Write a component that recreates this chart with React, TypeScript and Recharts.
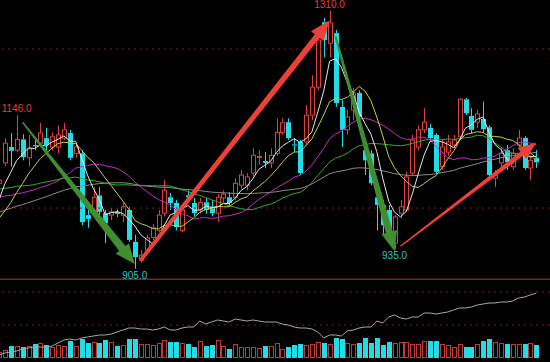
import { Bar, ComposedChart, Line, ReferenceDot, ReferenceLine, XAxis, YAxis } from "recharts";

// daily candles, left to right
const opens = [
  1039, 1071, 1096, 1091, 1108, 1079, 1099, 1102, 1110, 1096, 1096, 1110, 1118, 1086, 1086, 989,
  992, 1020, 992, 989, 994, 989, 997, 947, 918, 934, 954, 965, 992, 1017, 1008, 965,
  1020, 1008, 997, 1009, 1002, 992, 1016, 1017, 1017, 1036, 1036, 1055, 1080, 1074, 1071, 1086,
  1119, 1135, 1100, 1104, 1104, 1146, 1190, 1292, 1259, 1275, 1159, 1123, 1154, 1181, 1091, 1086,
  1017, 1005, 997, 945, 992, 997, 1055, 1096, 1123, 1126, 1115, 1065, 1088, 1099, 1112, 1171,
  1145, 1135, 1140, 1127, 1047, 1071, 1091, 1065, 1099, 1110, 1063, 1079,
];
const highs = [
  1050, 1110, 1118, 1146, 1116, 1115, 1107, 1134, 1126, 1119, 1130, 1134, 1123, 1102, 1091, 997,
  1033, 1033, 997, 1000, 998, 1009, 1002, 958, 934, 958, 975, 997, 1044, 1024, 1013, 1005,
  1028, 1016, 1016, 1016, 1013, 1022, 1028, 1025, 1047, 1060, 1055, 1094, 1091, 1088, 1094, 1141,
  1141, 1141, 1110, 1107, 1162, 1209, 1272, 1299, 1310, 1280, 1170, 1154, 1189, 1185, 1107, 1091,
  1028, 1013, 1005, 989, 1013, 1057, 1115, 1130, 1157, 1132, 1118, 1107, 1115, 1115, 1173, 1173,
  1157, 1154, 1167, 1130, 1060, 1094, 1099, 1094, 1123, 1113, 1083, 1091,
];
const lows = [
  1035, 1066, 1065, 1088, 1075, 1065, 1091, 1097, 1091, 1091, 1086, 1107, 1075, 1079, 973, 969,
  986, 989, 945, 981, 986, 978, 947, 905, 914, 931, 950, 962, 987, 997, 965, 962,
  1013, 987, 991, 991, 987, 978, 1009, 1003, 1013, 1031, 1028, 1050, 1068, 1063, 1063, 1082,
  1115, 1107, 1088, 1052, 1099, 1138, 1185, 1237, 1237, 1159, 1096, 1115, 1138, 1130, 1052, 1036,
  965, 958, 958, 935, 984, 994, 1052, 1091, 1118, 1107, 1053, 1060, 1082, 1094, 1107, 1146,
  1118, 1126, 1119, 1047, 1033, 1057, 1060, 1060, 1091, 1060, 1044, 1063,
];
const closes = [
  1044, 1102, 1090, 1108, 1080, 1093, 1097, 1118, 1099, 1112, 1115, 1123, 1079, 1096, 978, 983,
  1017, 994, 976, 994, 991, 1002, 950, 923, 926, 953, 969, 989, 1028, 1008, 970, 997,
  1017, 992, 1009, 997, 992, 1017, 1022, 1008, 1039, 1052, 1049, 1083, 1081, 1071, 1083, 1119,
  1134, 1110, 1099, 1055, 1146, 1190, 1264, 1264, 1291, 1165, 1123, 1143, 1181, 1143, 1075, 1039,
  1005, 973, 965, 986, 1002, 1049, 1107, 1123, 1135, 1110, 1057, 1096, 1104, 1107, 1171, 1149,
  1123, 1148, 1124, 1052, 1052, 1086, 1072, 1086, 1110, 1063, 1075, 1072,
];
// volume, thousand lots
const volumes = [
  6, 8, 12, 12, 11, 12, 14, 15, 13, 11, 13, 12, 17, 12, 19, 15,
  16, 15, 18, 16, 12, 13, 19, 19, 14, 14, 13, 15, 18, 16, 16, 15,
  14, 11, 17, 12, 13, 18, 12, 9, 14, 11, 11, 11, 10, 12, 12, 15,
  9, 11, 13, 14, 13, 14, 16, 15, 14, 20, 19, 15, 14, 15, 20, 15,
  20, 13, 16, 15, 16, 16, 14, 14, 17, 17, 17, 14, 13, 11, 14, 11,
  11, 14, 17, 19, 16, 15, 14, 14, 14, 14, 15, 13,
];
// grey indicator line in the volume pane
const obv = [
  3, 5, 6, 7, 9, 10, 11, 11, 11, 12, 15, 18, 19, 18, 20, 21,
  22, 23, 23, 24, 26, 28, 30, 30, 29, 29, 28, 29, 31, 28, 28, 30,
  31, 31, 37, 34, 36, 38, 37, 36, 39, 38, 37, 38, 37, 36, 36, 36,
  34, 33, 31, 30, 30, 29, 26, 20, 23, 23, 22, 27, 28, 30, 31, 31,
  37, 35, 41, 43, 40, 39, 41, 41, 45, 45, 44, 45, 46, 48, 50, 50,
  51, 53, 54, 55, 55, 56, 56, 57, 60, 61, 63, 65,
];
// closes before the visible window (only feed the moving averages)
const prevCloses = [
  905, 912, 920, 915, 908, 918, 925, 912, 906, 915, 922, 930, 918, 910, 916, 924, 920,
  940, 962, 985, 1000, 1012, 1005, 1020, 1030, 1018, 1035, 1042, 1038, 1050,
  1060, 1055, 1048, 1062, 1070, 1058, 1050, 1046, 1055, 1052,
  1060, 1066, 1058, 1050, 1045, 1052, 1048, 1040, 1042, 1035,
  985, 960, 948, 940, 942,
  975, 1000, 1015, 1030,
];

const extremes = [
  { i: 3, price: 1146, side: "high" },
  { i: 56, price: 1310, side: "high" },
  { i: 23, price: 905, side: "low" },
  { i: 67, price: 935, side: "low" },
];

const RED = "#e0403c";
const CYAN = "#22dde6";
const GRID = "#7a1c1c";
const GREEN_ARROW = "#3f8f30";
const RED_ARROW = "#ec4038";

function movingAverage(n: number) {
  const all = prevCloses.concat(closes);
  const off = prevCloses.length;
  return closes.map((_, i) => {
    const end = off + i;
    const start = Math.max(0, end - n + 1);
    let s = 0;
    for (let k = start; k <= end; k++) s += all[k];
    return +(s / (end - start + 1)).toFixed(1);
  });
}

const ma5 = movingAverage(5);
const ma10 = movingAverage(10);
const ma20 = movingAverage(20);
const ma30 = movingAverage(30);
const ma60 = movingAverage(60);

// two empty slots on the right, like the terminal leaves
const rows = Array.from({ length: closes.length + 2 }, (_, i) =>
  i < closes.length
    ? {
        i,
        open: opens[i],
        high: highs[i],
        low: lows[i],
        close: closes[i],
        range: [lows[i], highs[i]],
        vol: volumes[i] * 1000,
        obv: obv[i],
        ma5: ma5[i],
        ma10: ma10[i],
        ma20: ma20[i],
        ma30: ma30[i],
        ma60: ma60[i],
      }
    : { i }
);

function Candle(props: any) {
  const { x, y, width, height, payload } = props;
  if (!payload || payload.open == null) return null;
  const { open, close, high, low } = payload;
  const top0 = Math.min(y, y + height);
  const h = Math.abs(height);
  const px = (v: number) => (high === low ? top0 : top0 + ((high - v) / (high - low)) * h);
  const up = close > open;
  const color = up ? RED : CYAN;
  const cx = Math.round(x + width / 2) + 0.5;
  const bTop = px(Math.max(open, close));
  const bBot = Math.max(px(Math.min(open, close)), bTop + 1);
  const left = cx - 2;
  return (
    <g>
      <line x1={cx} x2={cx} y1={top0} y2={bTop} stroke={color} strokeWidth={1} />
      <line x1={cx} x2={cx} y1={bBot} y2={top0 + h} stroke={color} strokeWidth={1} />
      {up ? (
        <rect x={left} y={bTop} width={4} height={bBot - bTop} fill="#000" stroke={color} strokeWidth={1} />
      ) : (
        <rect x={left - 0.5} y={bTop} width={5} height={bBot - bTop} fill={color} />
      )}
    </g>
  );
}

function VolumeBar(props: any) {
  const { x, y, width, height, payload } = props;
  if (!payload || payload.open == null) return null;
  const up = payload.close > payload.open;
  const left = Math.round(x + width / 2) - 2;
  if (up)
    return <rect x={left + 0.5} y={y + 0.5} width={4} height={height - 1} fill="none" stroke="#c23a36" strokeWidth={1} />;
  return <rect x={left} y={y} width={5} height={height} fill={CYAN} />;
}

function arrow(color: string, w0: number, w1: number, headL: number, headW: number) {
  return (p: any) => {
    const { x1, y1, x2, y2 } = p;
    const dx = x2 - x1;
    const dy = y2 - y1;
    const len = Math.hypot(dx, dy) || 1;
    const ux = dx / len;
    const uy = dy / len;
    const nx = -uy;
    const ny = ux;
    const bx = x2 - ux * headL;
    const by = y2 - uy * headL;
    const pts = [
      [x1 + (nx * w0) / 2, y1 + (ny * w0) / 2],
      [bx + (nx * w1) / 2, by + (ny * w1) / 2],
      [bx + (nx * headW) / 2, by + (ny * headW) / 2],
      [x2, y2],
      [bx - (nx * headW) / 2, by - (ny * headW) / 2],
      [bx - (nx * w1) / 2, by - (ny * w1) / 2],
      [x1 - (nx * w0) / 2, y1 - (ny * w0) / 2],
    ];
    return <polygon points={pts.map((q) => q.join(",")).join(" ")} fill={color} />;
  };
}

function extremeLabel(price: number, side: string) {
  return (p: any) => (
    <text
      x={p.cx}
      y={side === "high" ? p.cy - 3 : p.cy + 10}
      textAnchor="middle"
      fontFamily="Liberation Sans"
      fontSize={10}
      fill={side === "high" ? RED : "#2cc4cc"}
    >
      {price.toFixed(1)}
    </text>
  );
}

const maLines = [
  { key: "ma60", color: "#8c8c8c" },
  { key: "ma30", color: "#2fae2f" },
  { key: "ma20", color: "#c22fc2" },
  { key: "ma10", color: "#cccc3c" },
  { key: "ma5", color: "#e6e6e6" },
];

export default function App() {
  return (
    <div style={{ position: "absolute", left: 0, top: 0, width: 550, height: 362, background: "#000", overflow: "hidden" }}>
      <div style={{ position: "absolute", left: -4, top: 0 }}>
        <ComposedChart width={555} height={280} data={rows} margin={{ top: 0, right: 0, bottom: 0, left: 0 }}>
          <XAxis dataKey="i" hide />
          <YAxis domain={[887, 1327]} allowDataOverflow hide />
          <ReferenceLine y={1250} stroke={GRID} strokeDasharray="2 4" />
          <ReferenceLine y={1000} stroke={GRID} strokeDasharray="2 4" />
          <ReferenceLine y={888} stroke="#8a1e1e" strokeWidth={1.5} />
          <Bar dataKey="range" shape={<Candle />} isAnimationActive={false} />
          {maLines.map((m) => (
            <Line
              key={m.key}
              dataKey={m.key}
              stroke={m.color}
              strokeWidth={1}
              dot={false}
              activeDot={false}
              isAnimationActive={false}
            />
          ))}
          <ReferenceLine segment={[{ x: 4, y: 1135 }, { x: 23, y: 912 }]} shape={arrow(GREEN_ARROW, 1.5, 8, 20, 17)} />
          <ReferenceLine segment={[{ x: 24, y: 918 }, { x: 56, y: 1295 }]} shape={arrow(RED_ARROW, 4, 6, 20, 16)} />
          <ReferenceLine segment={[{ x: 57, y: 1270 }, { x: 67, y: 932 }]} shape={arrow(GREEN_ARROW, 2, 7, 20, 16)} />
          <ReferenceLine segment={[{ x: 68, y: 940 }, { x: 91, y: 1103 }]} shape={arrow(RED_ARROW, 1.5, 5, 18, 14)} />
          {extremes.map((e) => (
            <ReferenceDot key={e.i} x={e.i} y={e.price} r={1} ifOverflow="visible" shape={extremeLabel(e.price, e.side)} />
          ))}
        </ComposedChart>
      </div>
      <div style={{ position: "absolute", left: -4, top: 280 }}>
        <ComposedChart width={555} height={82} data={rows} margin={{ top: 0, right: 0, bottom: 4, left: 0 }}>
          <XAxis dataKey="i" hide />
          <YAxis yAxisId="vol" domain={[0, 78000]} hide />
          <YAxis yAxisId="obv" domain={[0, 78]} hide />
          <ReferenceLine yAxisId="vol" y={66000} stroke={GRID} strokeDasharray="2 4" />
          <ReferenceLine yAxisId="vol" y={33000} stroke={GRID} strokeDasharray="2 4" />
          <Bar yAxisId="vol" dataKey="vol" shape={<VolumeBar />} isAnimationActive={false} />
          <Line
            yAxisId="obv"
            dataKey="obv"
            stroke="#a8a8a8"
            strokeWidth={1}
            dot={false}
            activeDot={false}
            isAnimationActive={false}
          />
        </ComposedChart>
      </div>
    </div>
  );
}
